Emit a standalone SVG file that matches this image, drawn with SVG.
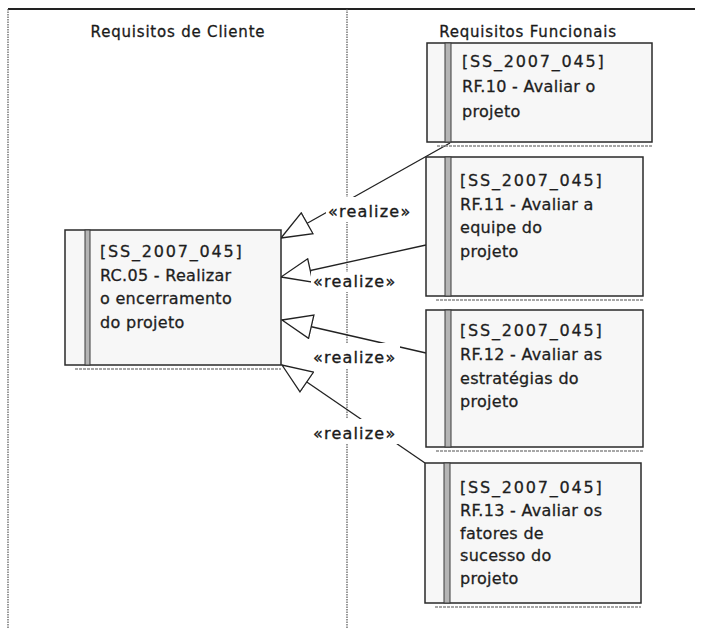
<svg xmlns="http://www.w3.org/2000/svg" width="705" height="628" viewBox="0 0 705 628">
  <style>
    .frame { stroke: #222; stroke-width: 2; fill: none; }
    .lane { stroke: #555; stroke-width: 1.2; stroke-dasharray: 1.5 1; fill: none; }
    .title { font-family: "DejaVu Sans", Verdana, sans-serif; font-size: 15px; letter-spacing: 0.8px; fill: #1a1a1a; stroke: #1a1a1a; stroke-width: 0.3; text-anchor: middle; }
    .box { fill: #f7f7f7; stroke: #2a2a2a; stroke-width: 1.5; }
    .stripe { fill: #b5b5b5; stroke: #3a3a3a; stroke-width: 1; }
    .shadow { stroke: #8a8a8a; stroke-width: 1.5; stroke-dasharray: 3 1; }
    .txt { font-family: "DejaVu Sans", Verdana, sans-serif; font-size: 16px; letter-spacing: 0.3px; fill: #1e1e1e; stroke: #1e1e1e; stroke-width: 0.3; }
    .id { letter-spacing: 1.8px; }
    .edge { stroke: #222; stroke-width: 1.3; fill: none; marker-end: url(#realize); }
    .lbl { font-family: "DejaVu Sans", Verdana, sans-serif; font-size: 16px; letter-spacing: 1.2px; fill: #1a1a1a; stroke: #1a1a1a; stroke-width: 0.35; }
    .lblbg { fill: #fff; }
  </style>
  <defs>
    <!-- hollow triangle for realization -->
    <marker id="realize" markerUnits="userSpaceOnUse" viewBox="-1 -13 33 26" refX="30" refY="0" markerWidth="33" markerHeight="26" orient="auto">
      <path d="M30,0 L0,-12 L0,12 Z" fill="#fff" stroke="#222" stroke-width="1.3"/>
    </marker>
  </defs>

  <rect width="705" height="628" fill="#fff"/>

  <!-- swimlane frame -->
  <g id="frame">
    <line class="frame" x1="8" y1="9" x2="695" y2="9"/>
    <line class="lane" x1="8" y1="9" x2="8" y2="628"/>
    <line class="lane" x1="347" y1="9" x2="347" y2="628"/>
    <text class="title" x="178" y="37">Requisitos de Cliente</text>
    <text class="title" x="528" y="37">Requisitos Funcionais</text>
  </g>

  <!-- connectors -->
  <g id="connectors">
    <line class="edge" x1="450" y1="143" x2="281" y2="238"/>
    <line class="edge" x1="426" y1="245" x2="281" y2="277"/>
    <line class="edge" x1="426" y1="353" x2="282" y2="320"/>
    <line class="edge" x1="425" y1="463" x2="282" y2="365"/>

    <rect class="lblbg" x="326" y="197" width="85" height="25"/>
    <text class="lbl" x="328" y="217">«realize»</text>
    <rect class="lblbg" x="311" y="272" width="89" height="20"/>
    <text class="lbl" x="313" y="287">«realize»</text>
    <rect class="lblbg" x="311" y="343" width="89" height="25"/>
    <text class="lbl" x="313" y="363">«realize»</text>
    <rect class="lblbg" x="311" y="419" width="89" height="25"/>
    <text class="lbl" x="313" y="439">«realize»</text>
  </g>

  <!-- client requirement -->
  <g id="RC05">
    <line class="shadow" x1="75" y1="369" x2="281" y2="369"/>
    <rect class="box" x="65" y="230" width="216" height="135"/>
    <rect class="stripe" x="85" y="230" width="5" height="135"/>
    <text class="txt id" x="100" y="257">[SS_2007_045]</text>
    <text class="txt" x="100" y="280.5">RC.05 - Realizar</text>
    <text class="txt" x="100" y="304">o encerramento</text>
    <text class="txt" x="100" y="327.5">do projeto</text>
  </g>

  <!-- functional requirements -->
  <g id="RF10">
    <line class="shadow" x1="437" y1="146" x2="652" y2="146"/>
    <rect class="box" x="427" y="43" width="225" height="99"/>
    <rect class="stripe" x="445" y="43" width="6" height="99"/>
    <text class="txt id" x="462" y="67">[SS_2007_045]</text>
    <text class="txt" x="462" y="92">RF.10 - Avaliar o</text>
    <text class="txt" x="462" y="117">projeto</text>
  </g>

  <g id="RF11">
    <line class="shadow" x1="436" y1="300" x2="643" y2="300"/>
    <rect class="box" x="426" y="157" width="217" height="139"/>
    <rect class="stripe" x="445" y="157" width="6" height="139"/>
    <text class="txt id" x="460" y="186">[SS_2007_045]</text>
    <text class="txt" x="460" y="209.5">RF.11 - Avaliar a</text>
    <text class="txt" x="460" y="233">equipe do</text>
    <text class="txt" x="460" y="256.5">projeto</text>
  </g>

  <g id="RF12">
    <line class="shadow" x1="436" y1="451" x2="643" y2="451"/>
    <rect class="box" x="426" y="310" width="217" height="137"/>
    <rect class="stripe" x="445" y="310" width="6" height="137"/>
    <text class="txt id" x="460" y="336">[SS_2007_045]</text>
    <text class="txt" x="460" y="360">RF.12 - Avaliar as</text>
    <text class="txt" x="460" y="383.5">estratégias do</text>
    <text class="txt" x="460" y="407">projeto</text>
  </g>

  <g id="RF13">
    <line class="shadow" x1="435" y1="607" x2="641" y2="607"/>
    <rect class="box" x="425" y="463" width="216" height="140"/>
    <rect class="stripe" x="444" y="463" width="6" height="140"/>
    <text class="txt id" x="460" y="493">[SS_2007_045]</text>
    <text class="txt" x="460" y="516">RF.13 - Avaliar os</text>
    <text class="txt" x="460" y="538.5">fatores de</text>
    <text class="txt" x="460" y="561">sucesso do</text>
    <text class="txt" x="460" y="583.5">projeto</text>
  </g>
</svg>
